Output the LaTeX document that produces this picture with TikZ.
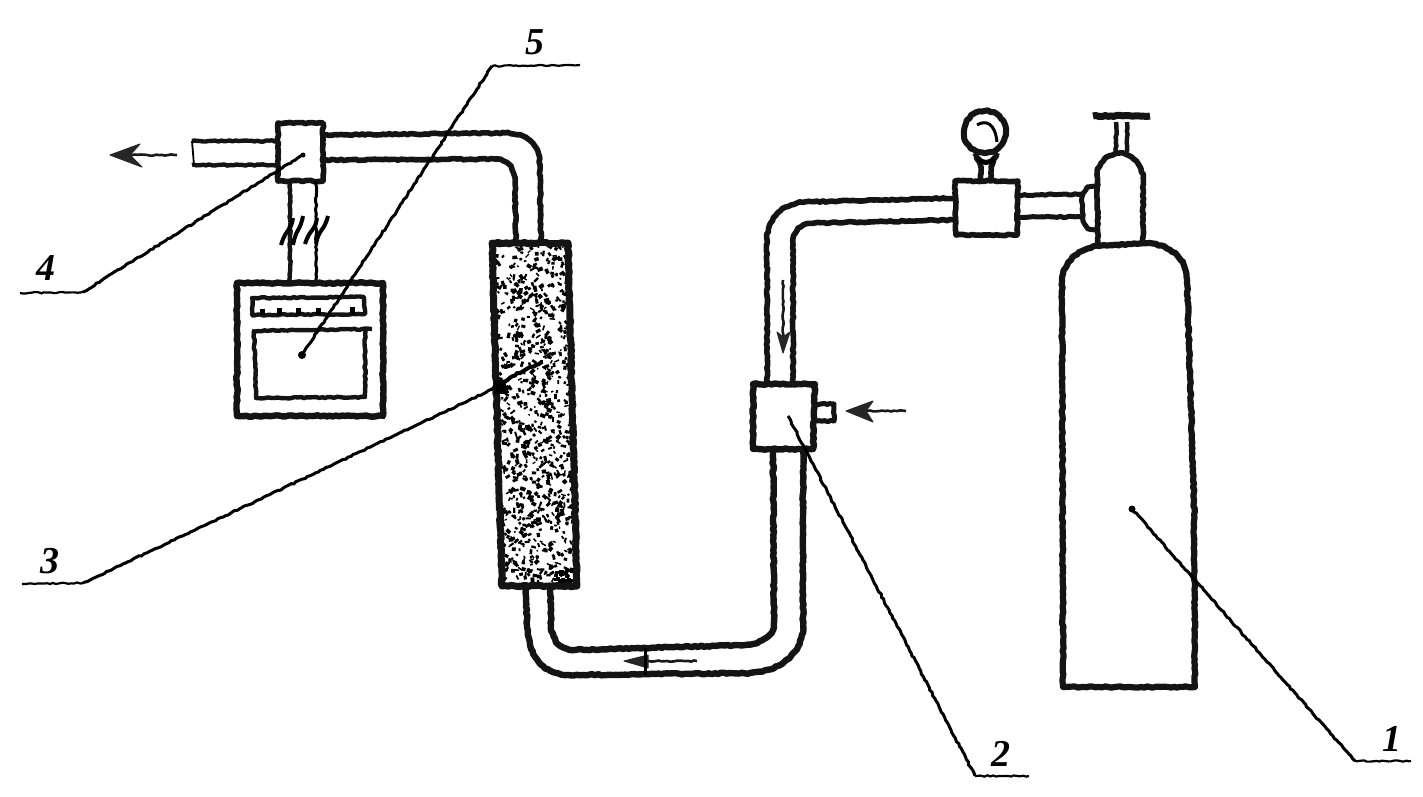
\documentclass[tikz,border=0pt]{standalone}
\usepackage{fontspec}
\setmainfont{Liberation Serif}
\usetikzlibrary{decorations.pathmorphing}
\tikzset{
  x=1pt,y=-1pt,
  rough/.style={decorate,decoration={random steps,segment length=3pt,amplitude=0.7pt}},
  wall/.style={draw=black!92,line width=5.6pt,line join=round,rough},
  thin wall/.style={draw=black!92,line width=4.4pt,line join=round,rough},
  leader/.style={draw=black,line width=3pt,rough},
  under/.style={draw=black,line width=2.2pt,rough},
  flow/.style={draw=black!90,line width=2.6pt,rough},
  flowhead/.style={fill=black!85,draw=black!85,line width=1pt,line join=round},
  digit/.style={font=\fontsize{38}{38}\selectfont\bfseries\itshape,inner sep=0pt,text=black},
}
\begin{document}
\begin{tikzpicture}
\useasboundingbox[fill=white] (0,0) rectangle (1423,796);
\pgfmathsetseed{4217}

% outlet pipe, left part
\draw[thin wall] (278,141) -- (192,141);
\draw[thin wall] (278,165) -- (192,165);
\draw[draw=black,line width=1.8pt] (192,141) -- (194,165);
% outlet pipe to column
\draw[wall] (323,135) -- (505,133) .. controls (530,133) and (540,145) .. (540,170) -- (541,242);
\draw[wall] (323,160) -- (495,159) .. controls (510,160) and (515,170) .. (515,185) -- (516,242);
% sensor block 4
\draw[wall] (278,123) rectangle (323,181);
% wires
\draw[thin wall] (290,181) -- (290,282);
\draw[draw=black,line width=3pt,rough] (316,181) -- (316,282);
\draw[line width=4pt,black] (281,245) .. controls (286,228) and (291,232) .. (293,218) (293,245) .. controls (296,228) and (300,232) .. (303,216);
\draw[line width=4pt,black] (305,244) .. controls (310,228) and (315,232) .. (317,218) (316,244) .. controls (319,228) and (324,232) .. (328,216);
% recorder
\draw[wall,line width=6.4pt] (237,283) rectangle (383,416);
\draw[thin wall,line width=4.4pt] (252,298) -- (364,297) -- (365,314) -- (252,315) -- cycle;
\draw[line width=5pt,black] (262,315) -- (262,309) (279,315) -- (279,308) (298,315) -- (298,308) (318,315) -- (318,308) (352,315) -- (352,307);
\draw[thin wall] (252,331) -- (372,329);
\draw[thin wall] (254,331) -- (256,398) -- (365,397) -- (365,329);
% column packing
\fill[white] (492,242) -- (568,242) -- (577,587) -- (502,587) -- cycle;
\begin{scope}
\clip (492,242) -- (568,242) -- (577,587) -- (502,587) -- cycle;
\foreach \i in {1,...,1000}{
  \pgfmathsetmacro{\py}{242+345*rnd}
  \pgfmathsetmacro{\px}{494+80*rnd+(\py-242)*0.027}
  \pgfmathsetmacro{\pw}{1.5+4.2*rnd}
  \pgfmathsetmacro{\ph}{1.2+2.8*rnd}
  \pgfmathsetmacro{\pa}{180*rnd}
  \fill[black,rotate around={\pa:(\px,\py)}] (\px,\py) rectangle ++(\pw,\ph);
}
\foreach \i in {1,...,40}{
  \pgfmathsetmacro{\py}{568+19*rnd}
  \pgfmathsetmacro{\px}{553+24*rnd}
  \fill[black] (\px,\py) rectangle ++(4,3);
}
\end{scope}
\draw[wall,line width=7pt] (492,243) -- (568,243) -- (577,586) -- (502,586) -- cycle;
% lower U pipe
\draw[wall,line width=6.4pt] (526,586) -- (527,625) .. controls (529,660) and (545,673) .. (565,675) -- (750,673) .. controls (785,670) and (803,650) .. (803,625) -- (803,450);
\draw[wall,line width=6.4pt] (550,586) -- (551,625) .. controls (552,640) and (560,649) .. (572,650) -- (745,645) .. controls (765,643) and (774,635) .. (774,622) -- (773,450);
% upper pipe elbow
\draw[wall] (767,383) -- (767,240) .. controls (768,215) and (785,203) .. (805,202) -- (955,198);
\draw[wall] (793,383) -- (793,245) .. controls (793,228) and (803,223) .. (815,223) -- (955,220);
% valve block 2
\draw[wall,line width=6.4pt] (753,384) -- (815,384) -- (813,449) -- (753,449) -- cycle;
\draw[thin wall,line width=5pt] (815,404) -- (834,404) -- (834,421) -- (815,421);
% pressure box and gauge
\draw[wall] (955,181) -- (1018,181) -- (1017,235) -- (956,235) -- cycle;
\draw[wall,line width=6pt] (985,132) circle (21);
\draw[line width=3pt,black] (977,125) .. controls (985,120) and (995,122) .. (997,142);
\draw[wall] (975,153) -- (981,167) -- (981,181);
\draw[wall] (997,153) -- (991,167) -- (991,181);
\draw[line width=5pt,black] (978,158) .. controls (982,164) and (990,164) .. (994,158);
% connector to bottle valve
\draw[thin wall,line width=5pt] (1018,195) -- (1082,194);
\draw[thin wall,line width=5pt] (1018,217) -- (1082,217);
\draw[thin wall,line width=5pt] (1097,186) -- (1087,187) -- (1082,197) -- (1083,221) -- (1088,229) -- (1097,230);
% bottle neck
\draw[wall] (1098,245) -- (1097,175) .. controls (1098,162) and (1108,154) .. (1120,153) .. controls (1132,154) and (1142,165) .. (1143,178) -- (1143,245);
\draw[thin wall] (1116,152) -- (1116,122);
\draw[thin wall] (1127,152) -- (1127,122);
\draw[wall,line width=7pt] (1093,116) -- (1150,116);
% bottle
\draw[wall,line width=6.2pt] (1063,687) -- (1062,282) .. controls (1062,262) and (1080,248) .. (1098,246) -- (1150,243) .. controls (1175,247) and (1187,262) .. (1187,280) -- (1194,500) -- (1195,687) -- cycle;
% flow arrows
\coordinate (a1s) at (177,155); \coordinate (a1e) at (122,155);
\draw[flow] (a1s) -- (a1e);
\fill[flowhead] (110,155) -- (140,144) -- (130,155) -- (142,167) -- cycle;
\coordinate (a2s) at (906,411); \coordinate (a2e) at (855,411);
\draw[flow] (a2s) -- (a2e);
\fill[flowhead] (846,411) -- (873,401) -- (866,411) -- (873,422) -- cycle;
\coordinate (a3s) at (783,280); \coordinate (a3e) at (783,340);
\draw[flow] (a3s) -- (a3e);
\fill[flowhead] (783,353) -- (777,332) -- (783,337) -- (790,332) -- cycle;
\coordinate (a4s) at (697,661); \coordinate (a4e) at (640,661);
\draw[flow] (a4s) -- (a4e);
\fill[flowhead] (624,661) -- (648,655) -- (648,668) -- cycle;
\draw[line width=3pt,black] (645,648) -- (645,675);
% labels with leaders
\node[digit] (n1) at (1392,739) {1};
\node[digit] (n2) at (1001,754) {2};
\node[digit] (n3) at (50,561) {3};
\node[digit] (n4) at (46,268) {4};
\node[digit] (n5) at (535,42) {5};
\coordinate (e1) at (1132,509); \coordinate (k1) at (1355,761); \coordinate (u1) at (1411,761);
\coordinate (e2) at (788,416);  \coordinate (k2) at (975,776);  \coordinate (u2) at (1029,776);
\coordinate (e3) at (497,387);  \coordinate (k3) at (83,583);   \coordinate (u3) at (22,584);
\coordinate (e4) at (303,155);  \coordinate (k4) at (83,292);   \coordinate (u4) at (20,293);
\coordinate (e5) at (302,355);  \coordinate (k5) at (492,66);   \coordinate (u5) at (580,65);
\draw[leader] (e1) -- (k1); \draw[under] (k1) -- (u1);
\draw[leader] (e2) -- (k2); \draw[under] (k2) -- (u2);
\draw[leader] (e3) -- (k3); \draw[under] (k3) -- (u3);
\draw[leader] (e4) -- (k4); \draw[under] (k4) -- (u4);
\draw[leader] (e5) -- (k5); \draw[under] (k5) -- (u5);
\fill[black] (e5) circle (4);
\fill[black] (e4) circle (2.5);
\fill[black] (e1) circle (3.5);
\fill[black] (494,380) rectangle (506,394);
\draw[line width=4pt,black,rough] (e3) .. controls (512,375) and (525,370) .. (543,362);
\end{tikzpicture}
\end{document}
